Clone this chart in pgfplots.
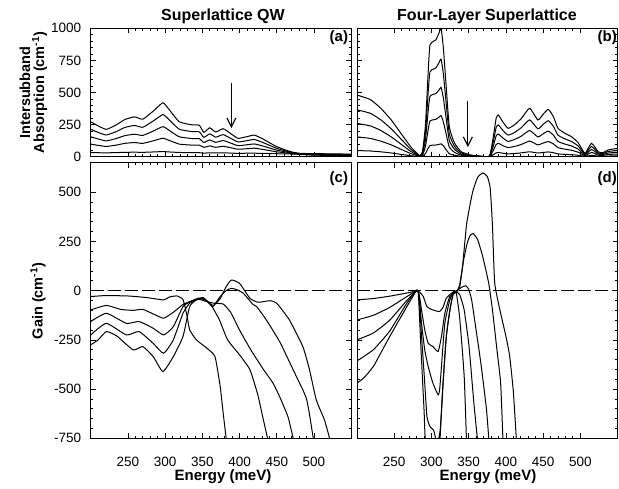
\documentclass[border=0pt]{standalone}
\usepackage{pgfplots}
\pgfplotsset{compat=1.18}
\usepackage{pgfplotstable}
\usepackage{fontspec}
\setmainfont{Liberation Sans}
\usetikzlibrary{arrows.meta}

\pgfplotstableread{
E a1 a2 a3 a4 a5
200 272 214 155 98 33
210 240 189 138 88 31
221 213 169 123 80 30
235 250 197 143 91 32
246 290 228 164 104 34
259 310 243 175 110 35
270 292 229 166 104 34
285 360 282 202 125 37
297 420 328 234 144 40
305 370 290 207 128 37
319 272 214 155 98 33
337 247 195 141 90 31
346 245 193 140 90 31
352 190 151 111 73 28
360 225 178 130 84 30
368 192 152 112 73 29
378 218 172 126 81 30
388 180 143 106 70 28
398 143 115 86 58 26
409 155 124 92 62 27
420 168 134 99 66 27
432 136 109 82 56 26
450 78 65 51 38 23
468 40 35 31 26 21
481 26 24 22 20 18
500 24 21 18 15 12
525 22 19 16 13 10
550 20 17 14 11 9
}\tabA

\pgfplotstableread{
E b1 b2 b3 b4 b5
200 480 365 259 154 48
210 462 351 249 148 46
219 441 335 238 141 44
232 377 287 204 121 38
246 286 217 154 92 29
259 182 138 98 58 18
272 78 59 42 25 8
280 30 23 16 10 3
284 8 6 4 3 1
288 40 30 22 13 4
292 250 190 135 80 25
296 700 532 378 224 70
298 870 661 470 278 87
303 900 684 486 288 90
306 910 692 491 291 91
310 960 730 518 307 96
313 1000 760 540 320 100
316 850 646 459 272 85
319.5 574 436 310 184 57
324 234 178 126 75 23
331 107 81 58 34 11
340 39 30 21 12 4
353 13 10 7 4 1
365 5 4 3 2 1
378 5 4 3 2 1
383 150 114 81 48 15
387 300 228 162 96 30
390 325 247 176 104 33
396 270 205 146 86 27
403 221 168 119 71 22
412 250 190 135 80 25
421 299 227 161 96 30
432 377 287 204 121 38
443 286 217 154 92 29
450 330 251 178 106 33
457 369 280 199 118 37
464 310 236 167 99 31
470 221 168 119 71 22
480 180 137 97 58 18
488 156 119 84 50 16
497 110 84 59 35 11
506 26 20 14 8 3
510 60 46 32 19 6
515 104 79 56 33 10
519 80 61 43 26 8
524 39 30 21 12 4
530 30 23 16 10 3
537 52 40 28 17 5
550 65 49 35 21 7
}\tabB

\tikzset{
  panlab/.style={font=\bfseries\fontsize{15}{16}\selectfont, anchor=north east, inner sep=0pt},
  zeroline/.style={dash pattern=on 13pt off 4pt, line width=0.9pt, black},
}

\pgfplotsset{
  panel/.style={
    scale only axis, width=260.5pt, xmin=200, xmax=550,
    xtick={250,300,350,400,450,500}, minor x tick num=4,
    tick pos=both, xticklabel pos=lower, yticklabel pos=left,
    tick align=inside, major tick length=5pt, minor tick length=2.5pt,
    tick style={line width=0.7pt, black},
    axis line style={line width=1pt},
    ticklabel style={font=\fontsize{13.5}{15}\selectfont},
    xticklabel style={yshift=-15pt},
    yticklabel style={xshift=-6pt},
    /pgf/number format/assume math mode=true,
    /pgf/number format/1000 sep={},
    cycle list={{black, solid}},
    every axis plot/.append style={line width=1pt, black, solid, no marks, smooth, tension=0.3},
  },
  toppanel/.style={panel, height=128.4pt, ymin=0, ymax=1000,
    ytick={0,250,500,750,1000}, minor y tick num=4, xticklabels={}},
  botpanel/.style={panel, height=275.6pt, ymin=-750, ymax=650,
    ytick={-750,-500,-250,0,250,500}, minor y tick num=4},
}

\begin{document}
\begin{tikzpicture}
\path[use as bounding box] (0,0) rectangle (619pt,489pt);

% (a)
\begin{axis}[toppanel, at={(90.7pt,332.3pt)}, anchor=south west]
\addplot table[x=E,y=a1]{\tabA};
\addplot table[x=E,y=a2]{\tabA};
\addplot table[x=E,y=a3]{\tabA};
\addplot table[x=E,y=a4]{\tabA};
\addplot table[x=E,y=a5]{\tabA};
\draw[line width=1.1pt, -{Straight Barb[length=9pt,width=9pt]}] (axis cs:389,575) -- (axis cs:389,222);
\node[panlab] at ([xshift=-3pt,yshift=-2.5pt]rel axis cs:1,1) {(a)};
\end{axis}

% (b)
\begin{axis}[toppanel, at={(357pt,332.3pt)}, anchor=south west, yticklabels={}]
\addplot table[x=E,y=b1]{\tabB};
\addplot table[x=E,y=b2]{\tabB};
\addplot table[x=E,y=b3]{\tabB};
\addplot table[x=E,y=b4]{\tabB};
\addplot table[x=E,y=b5]{\tabB};
\draw[line width=1.1pt, -{Straight Barb[length=9pt,width=9pt]}] (axis cs:349,430) -- (axis cs:349,75);
\node[panlab] at ([xshift=-0.5pt,yshift=-2pt]rel axis cs:1,1) {(b)};
\end{axis}

% (c)
\begin{axis}[botpanel, at={(90.7pt,50.7pt)}, anchor=south west]
\addplot[zeroline, smooth=false] coordinates {(200,0) (550,0)};
\addplot coordinates {(200,-30) (220,-25) (250,-27) (275,-35) (298,-47) (306,-32) (316,-27) (324,-45) (329,-120) (333,-199) (342,-250) (356,-292) (367,-335) (374,-487) (378,-622) (382,-750)};
\addplot coordinates {(200,-98) (221,-75) (240,-95) (257,-100) (270,-95) (285,-120) (298,-140) (311,-110) (324,-70) (333,-56) (345,-38) (355,-50) (362,-75) (366,-100) (373,-149) (384,-250) (400,-326) (414,-402) (424.5,-529) (431,-639) (437.6,-750)};
\addplot coordinates {(200,-157) (221,-115) (248,-166) (265,-157) (284,-191) (298,-225) (311,-183) (324,-81) (334,-56) (345,-44) (355,-55) (366,-64) (378,-68) (388,-110) (400,-200) (415,-300) (432,-400) (445,-470) (454,-540) (465,-640) (472,-750)};
\addplot coordinates {(200,-225) (221,-166) (248,-225) (265,-208) (284,-268) (298,-318) (311,-250) (324,-115) (333,-64) (347,-38) (356,-50) (364,-81) (374,-30) (382,0) (389,12) (396,5) (405,-13) (418,-70) (423,-81) (436,-149) (454,-260) (472,-402) (490,-550) (499,-750)};
\addplot coordinates {(200,-275) (210,-250) (221,-208) (235,-230) (257,-301) (270,-284) (284,-335) (297,-411) (311,-335) (324,-233) (333,-81) (342,-47) (351,-35) (358,-60) (365,-75) (374,-40) (382,20) (389,54) (400,37) (414,-39) (425,-59) (441,-51) (450,-64) (467,-149) (485,-284) (494,-402) (503,-554) (514,-656) (521,-750)};
\node[panlab] at ([xshift=-3pt,yshift=-9pt]rel axis cs:1,1) {(c)};
\end{axis}

% (d)
\begin{axis}[botpanel, at={(357pt,50.7pt)}, anchor=south west, yticklabels={}]
\addplot[zeroline, smooth=false] coordinates {(200,0) (550,0)};
\addplot coordinates {(200,-47) (222,-40) (244,-28) (267,-12) (282,-2) (289,-30) (294,-81) (302,-98) (311,-106) (316,-81) (320,-38) (327,-13) (333,-5) (338,-140) (344,-435) (347,-750)};
\addplot coordinates {(200,-149) (222,-125) (244,-85) (267,-30) (282,-2) (286.7,-98) (291,-199) (295.6,-267) (302,-284) (309,-309) (313.5,-233) (318,-115) (324.7,-30) (333,-8) (338,-20) (344,-98) (350.5,-282) (357,-570) (361.7,-750)};
\addplot coordinates {(200,-250) (222,-215) (244,-150) (267,-50) (282,-2) (286.7,-166) (291,-301) (295.6,-385) (302,-470) (309,-529) (311,-504) (313.5,-385) (318,-166) (324.7,-47) (330,-10) (336,5) (341,18) (346,25) (350,8) (354,-47) (360,-199) (367,-385) (374,-605) (377,-750)};
\addplot coordinates {(200,-357) (222,-300) (244,-205) (267,-64) (282,-2) (286.7,-230) (291,-470) (294,-640) (298,-690) (303,-710) (308,-780) (312,-700) (315,-504) (320,-233) (324.7,-98) (329,-20) (334,-5) (338,20) (343,150) (348,240) (352,280) (356,290) (362,260) (369,172) (377,37) (382,-98) (388,-300) (393,-470) (396,-750)};
\addplot coordinates {(200,-470) (210,-440) (222,-385) (230,-330) (244,-233) (255,-160) (267,-81) (275,-30) (282,-2) (286,-300) (290,-600) (293,-800) (310,-800) (313,-650) (316,-450) (320,-233) (325,-98) (329,-20) (334,-5) (338,30) (342,130) (347,330) (352,440) (356,510) (362,575) (369,598) (375,580) (379,520) (382,330) (385,40) (392,-98) (400,-230) (405,-330) (410,-510) (414,-750)};
\node[panlab] at ([xshift=-0.5pt,yshift=-9pt]rel axis cs:1,1) {(d)};
\end{axis}

% titles and labels
\node[font=\bfseries\fontsize{16}{18}\selectfont] at (223pt,472.3pt) {Superlattice QW};
\node[font=\bfseries\fontsize{16}{18}\selectfont] at (487pt,472.3pt) {Four-Layer Superlattice};
\node[font=\bfseries\fontsize{14.5}{14}\selectfont, rotate=90, align=center] at (33.5pt,396.5pt) {Intersubband\\Absorption (cm\textsuperscript{-1})};
\node[font=\bfseries\fontsize{14.5}{14}\selectfont, rotate=90] at (38pt,188pt) {Gain (cm\textsuperscript{-1})};
\node[font=\bfseries\fontsize{15}{16}\selectfont] at (223pt,12.5pt) {Energy (meV)};
\node[font=\bfseries\fontsize{15}{16}\selectfont] at (488pt,12.5pt) {Energy (meV)};
\end{tikzpicture}
\end{document}
